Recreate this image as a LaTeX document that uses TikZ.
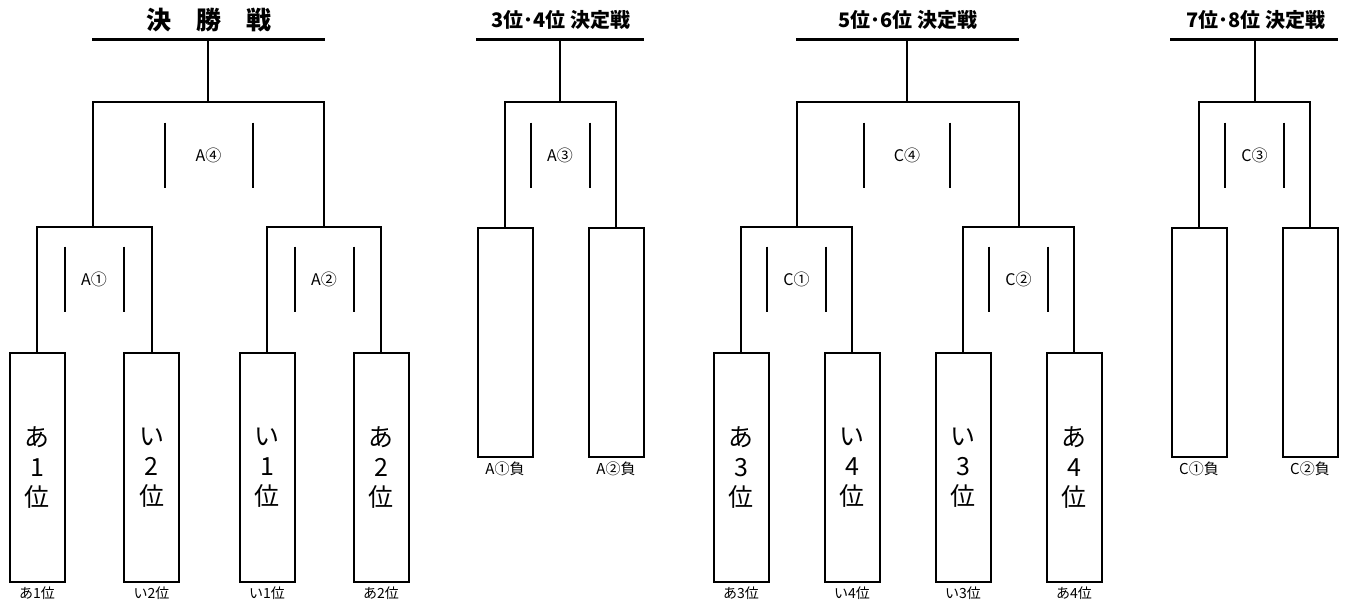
\documentclass[tikz,border=0pt]{standalone}
\usepackage{fontspec}
\setmainfont{Noto Sans CJK JP}
\begin{document}
\begin{tikzpicture}[x=1pt,y=-1pt,
  line width=2pt,
  entry/.style={draw, line width=2pt, minimum width=55pt, minimum height=229pt, inner sep=0pt, align=center, font=\fontsize{25}{30}\selectfont},
  sublbl/.style={anchor=north, inner sep=0pt, yshift=-3pt, font=\fontsize{14}{14}\selectfont},
  loselbl/.style={sublbl, font=\fontsize{15}{15}\selectfont},
  mlabel/.style={inner sep=0pt, minimum height=63pt, font=\fontsize{16}{16}\selectfont,
    append after command={(\tikzlastnode.north west) edge[line width=2pt] (\tikzlastnode.south west)
                          (\tikzlastnode.north east) edge[line width=2pt] (\tikzlastnode.south east)}},
  wide/.style={minimum width=86pt},
  narrow/.style={minimum width=57pt},
  ttl/.style={inner sep=0pt, font=\fontsize{20}{20}\selectfont\bfseries},
  bar/.style={line width=3pt}
]
\useasboundingbox (0,0) rectangle (1348,602);

% ---------- Section 1: 決勝戦 ----------
\node[ttl, font=\fontsize{25}{25}\selectfont\bfseries] (t1) at (209,20) {決　勝　戦};
\coordinate (b1L) at (92,40); \coordinate (b1R) at (325,40); \coordinate (b1C) at (208,40);
\draw[bar] (b1L) -- (b1R);
\node[entry] (s1) at (37,467.5) {あ\\1\\位};
\node[entry] (s2) at (151.5,467.5) {い\\2\\位};
\node[entry] (s3) at (267,467.5) {い\\1\\位};
\node[entry] (s4) at (381,467.5) {あ\\2\\位};
\node[sublbl] (l1) at (s1.south) {あ1位};
\node[sublbl] (l2) at (s2.south) {い2位};
\node[sublbl] (l3) at (s3.south) {い1位};
\node[sublbl] (l4) at (s4.south) {あ2位};
\coordinate (m12) at (93,227);
\coordinate (m34) at (324,227);
\coordinate (mF) at (208,102);
\draw (s1.north) |- (m12) -| (s2.north);
\draw (s3.north) |- (m34) -| (s4.north);
\draw (m12) |- (mF) -| (m34);
\draw (mF) -- (b1C);
\node[mlabel, narrow] (A1) at (94,279) {A①};
\node[mlabel, narrow] (A2) at (324,279) {A②};
\node[mlabel, wide] (A4) at (208.5,155) {A④};

% ---------- Section 2: 3位・4位 決定戦 ----------
\node[ttl] (t2) at (561,20) {3位･4位 決定戦};
\coordinate (b2L) at (476,40); \coordinate (b2R) at (644,40); \coordinate (b2C) at (560,40);
\draw[bar] (b2L) -- (b2R);
\node[entry] (u1) at (505,342.5) {};
\node[entry] (u2) at (616,342.5) {};
\node[loselbl] (k1) at (u1.south) {A①負};
\node[loselbl] (k2) at (u2.south) {A②負};
\coordinate (mU) at (560,102);
\draw (u1.north) |- (mU) -| (u2.north);
\draw (mU) -- (b2C);
\node[mlabel, narrow] (A3) at (560,155) {A③};

% ---------- Section 3: 5位・6位 決定戦 ----------
\node[ttl] (t3) at (908,20) {5位･6位 決定戦};
\coordinate (b3L) at (796,40); \coordinate (b3R) at (1019,40); \coordinate (b3C) at (907,40);
\draw[bar] (b3L) -- (b3R);
\node[entry] (v1) at (741,467.5) {あ\\3\\位};
\node[entry] (v2) at (852,467.5) {い\\4\\位};
\node[entry] (v3) at (963,467.5) {い\\3\\位};
\node[entry] (v4) at (1074,467.5) {あ\\4\\位};
\node[sublbl] (n1) at (v1.south) {あ3位};
\node[sublbl] (n2) at (v2.south) {い4位};
\node[sublbl] (n3) at (v3.south) {い3位};
\node[sublbl] (n4) at (v4.south) {あ4位};
\coordinate (p12) at (796.5,227);
\coordinate (p34) at (1018.5,227);
\coordinate (pF) at (907,102);
\draw (v1.north) |- (p12) -| (v2.north);
\draw (v3.north) |- (p34) -| (v4.north);
\draw (p12) |- (pF) -| (p34);
\draw (pF) -- (b3C);
\node[mlabel, narrow] (C1) at (796.5,279) {C①};
\node[mlabel, narrow] (C2) at (1018.5,279) {C②};
\node[mlabel, minimum width=84pt] (C4) at (907,155) {C④};

% ---------- Section 4: 7位・8位 決定戦 ----------
\node[ttl] (t4) at (1256,20) {7位･8位 決定戦};
\coordinate (b4L) at (1170,40); \coordinate (b4R) at (1338,40); \coordinate (b4C) at (1254.5,40);
\draw[bar] (b4L) -- (b4R);
\node[entry] (w1) at (1199,342.5) {};
\node[entry] (w2) at (1310,342.5) {};
\node[loselbl] (q1) at (w1.south) {C①負};
\node[loselbl] (q2) at (w2.south) {C②負};
\coordinate (mW) at (1254.5,102);
\draw (w1.north) |- (mW) -| (w2.north);
\draw (mW) -- (b4C);
\node[mlabel, narrow] (C3) at (1254.5,155) {C③};
\end{tikzpicture}
\end{document}
